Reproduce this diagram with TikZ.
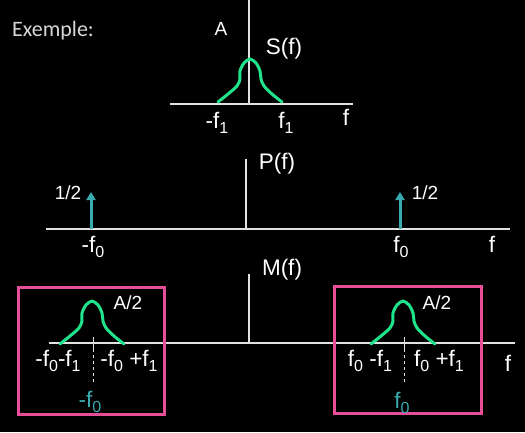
\documentclass[tikz,border=0pt]{standalone}
\usepackage{fontspec}
\setmainfont{Liberation Sans}
\newfontfamily\carlitofont{Carlito}
\usetikzlibrary{arrows.meta}
\definecolor{axisgray}{RGB}{225,225,225}
\definecolor{bumpgreen}{RGB}{32,228,140}
\definecolor{tealc}{RGB}{58,172,176}
\definecolor{pinkc}{RGB}{230,78,152}
\newcommand\sbs[1]{\raisebox{-5.5pt}{\fontsize{16}{16}\selectfont #1}}
\newcommand\drawbump[2]{%
  \draw[bump] plot[smooth,tension=0.5] coordinates {(#1-32,#2) (#1-22,#2-8) (#1-13,#2-16) (#1-10,#2-23) (#1-10,#2-31) (#1-6,#2-39) (#1,#2-43) (#1+6,#2-39) (#1+10,#2-31) (#1+11,#2-23) (#1+14,#2-16) (#1+22,#2-8) (#1+32,#2)};}
\begin{document}
\begin{tikzpicture}[x=1pt,y=-1pt,
  axis/.style={draw=axisgray,line width=1.5pt},
  bump/.style={draw=bumpgreen,line width=3pt,line cap=round,line join=round},
  impulse/.style={draw=tealc,line width=3pt,-{Triangle[width=9pt,length=8pt]}},
  lbl/.style={text=white,font=\fontsize{22.5}{22.5}\selectfont,inner sep=0pt},
  small/.style={text=white,font=\fontsize{19}{19}\selectfont,inner sep=0pt},
  teal/.style={text=tealc,font=\fontsize{22.5}{22.5}\selectfont,inner sep=0pt},
  box/.style={draw=pinkc,line width=3pt},
  guide/.style={draw=axisgray,line width=1pt,dash pattern=on 3pt off 3pt}]
\fill[black] (0,0) rectangle (525,432);
\useasboundingbox (0,0) rectangle (525,432);

% title
\node[anchor=west,inner sep=0pt,text={rgb,255:red,215;green,215;blue,215},font=\carlitofont\fontsize{22}{22}\selectfont] (title) at (12,31) {Exemple:};

% ---- S(f)
\coordinate (s0) at (249,104);
\coordinate (stop) at (249,0);
\coordinate (sl) at (170,104);
\coordinate (sr) at (353,104);
\draw[axis] (stop) -- (s0);
\draw[axis] (sl) -- (sr);
\drawbump{250}{102}
\node[small] (sA) at (221,29) {A};
\node[lbl] (sS) at (284,49) {S(f)};
\node[lbl] (sm1) at (217,123) {-f\sbs{1}};
\node[lbl] (sp1) at (286,123) {f\sbs{1}};
\node[lbl] (sf) at (346,117) {f};

% ---- P(f)
\coordinate (p0) at (246,229);
\coordinate (ptop) at (246,159);
\coordinate (pl) at (46,229);
\coordinate (pr) at (510,229);
\draw[axis] (ptop) -- (p0);
\draw[axis] (pl) -- (pr);
\coordinate (pa1) at (91,229);
\coordinate (pa1t) at (91,192);
\coordinate (pa2) at (400,229);
\coordinate (pa2t) at (400,192);
\draw[impulse] (pa1) -- (pa1t);
\draw[impulse] (pa2) -- (pa2t);
\node[small] (ph1) at (68,193) {1/2};
\node[small] (ph2) at (425,193) {1/2};
\node[lbl] (pP) at (277,164) {P(f)};
\node[lbl] (pm0) at (93,247) {-f\sbs{0}};
\node[lbl] (pp0) at (401,247) {f\sbs{0}};
\node[lbl] (pf) at (492,244) {f};

% ---- M(f)
\coordinate (m0) at (249,343);
\coordinate (mtop) at (249,274);
\coordinate (ml) at (49,343);
\coordinate (mr) at (515,343);
\draw[axis] (mtop) -- (m0);
\draw[axis] (ml) -- (mr);
\node[lbl] (mM) at (282,270) {M(f)};
\node[lbl] (mf) at (508,363) {f};

% left group
\draw[box] (18,287) rectangle (164,414);
\drawbump{92}{344}
\coordinate (lt1) at (93,337);
\coordinate (lt2) at (93,349);
\coordinate (lt3) at (93,382);
\draw[axis,line width=1pt] (lt1) -- (lt2);
\draw[guide] (lt2) -- (lt3);
\node[small] (lA) at (128,303) {A/2};
\node[lbl] (la) at (58,361) {-f\sbs{0}-f\sbs{1}};
\node[lbl] (lb) at (129,361) {-f\sbs{0} +f\sbs{1}};
\node[teal] (lc) at (90,402) {-f\sbs{0}};

% right group
\draw[box] (334,286) rectangle (481,413);
\drawbump{403}{344}
\coordinate (rt1) at (404,337);
\coordinate (rt2) at (404,349);
\coordinate (rt3) at (404,382);
\draw[axis,line width=1pt] (rt1) -- (rt2);
\draw[guide] (rt2) -- (rt3);
\node[small] (rA) at (437,303) {A/2};
\node[lbl] (ra) at (370,361) {f\sbs{0} -f\sbs{1}};
\node[lbl] (rb) at (439,361) {f\sbs{0} +f\sbs{1}};
\node[teal] (rc) at (402,403) {f\sbs{0}};
\end{tikzpicture}
\end{document}
